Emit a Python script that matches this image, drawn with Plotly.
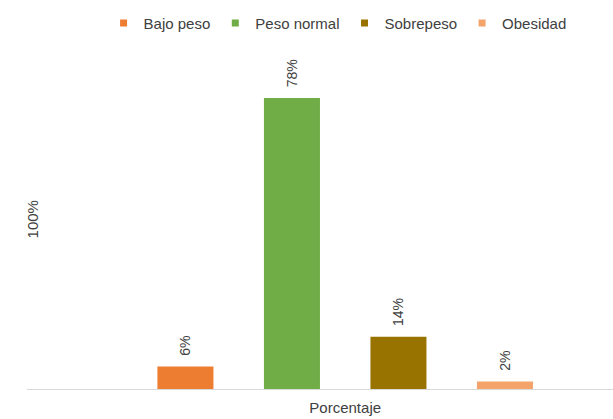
import plotly.graph_objects as go

# Single category group with one bar per nutritional status
categories = ["Porcentaje"]
series_names = ["Bajo peso", "Peso normal", "Sobrepeso", "Obesidad"]
values = [6, 78, 14, 2]
colors = ["#ED7D31", "#70AD47", "#997300", "#F4A36B"]

FONT = "Liberation Sans, Arial, sans-serif"
NBSP = "\u00a0"

fig = go.Figure()
for name, val, col in zip(series_names, values, colors):
    fig.add_trace(go.Bar(
        x=categories,
        y=[val],
        name=name,
        showlegend=False,
        marker=dict(color=col, line=dict(width=0)),
        text=[NBSP * 2 + f"{val}%"],
        textposition="outside",
        textangle=-90,
        textfont=dict(family=FONT, size=14, color="#404040"),
        cliponaxis=False,
    ))

# Small square legend keys
for name, col in zip(series_names, colors):
    fig.add_trace(go.Scatter(
        x=[None], y=[None],
        mode="markers",
        name=name,
        marker=dict(symbol="square", size=7, color=col),
        showlegend=True,
    ))

fig.update_layout(
    width=613,
    height=419,
    barmode="group",
    bargap=0.273,
    bargroupgap=0.474,
    paper_bgcolor="white",
    plot_bgcolor="white",
    margin=dict(l=27, r=0, t=60, b=30),
    font=dict(family=FONT, size=15, color="#404040"),
    showlegend=True,
    legend=dict(
        orientation="h",
        x=0.53, xanchor="center",
        y=1.112, yanchor="middle",
        font=dict(size=15, color="#404040"),
        itemwidth=30,
        tracegroupgap=0,
    ),
    xaxis=dict(
        range=[-0.543, 0.457],
        showline=True,
        linecolor="#D9D9D9",
        linewidth=1,
        ticks="",
        showgrid=False,
        zeroline=False,
        ticklabelstandoff=5,
        tickfont=dict(size=15, color="#404040"),
    ),
    yaxis=dict(
        range=[0, 88.2],
        showticklabels=False,
        showgrid=False,
        zeroline=False,
        showline=False,
        ticks="",
    ),
    annotations=[dict(
        text="100%",
        xref="paper", yref="paper",
        x=0.01, y=0.515,
        xanchor="center", yanchor="middle",
        textangle=-90,
        showarrow=False,
        font=dict(size=15, color="#404040"),
    )],
)

fig.write_html("out.html")
